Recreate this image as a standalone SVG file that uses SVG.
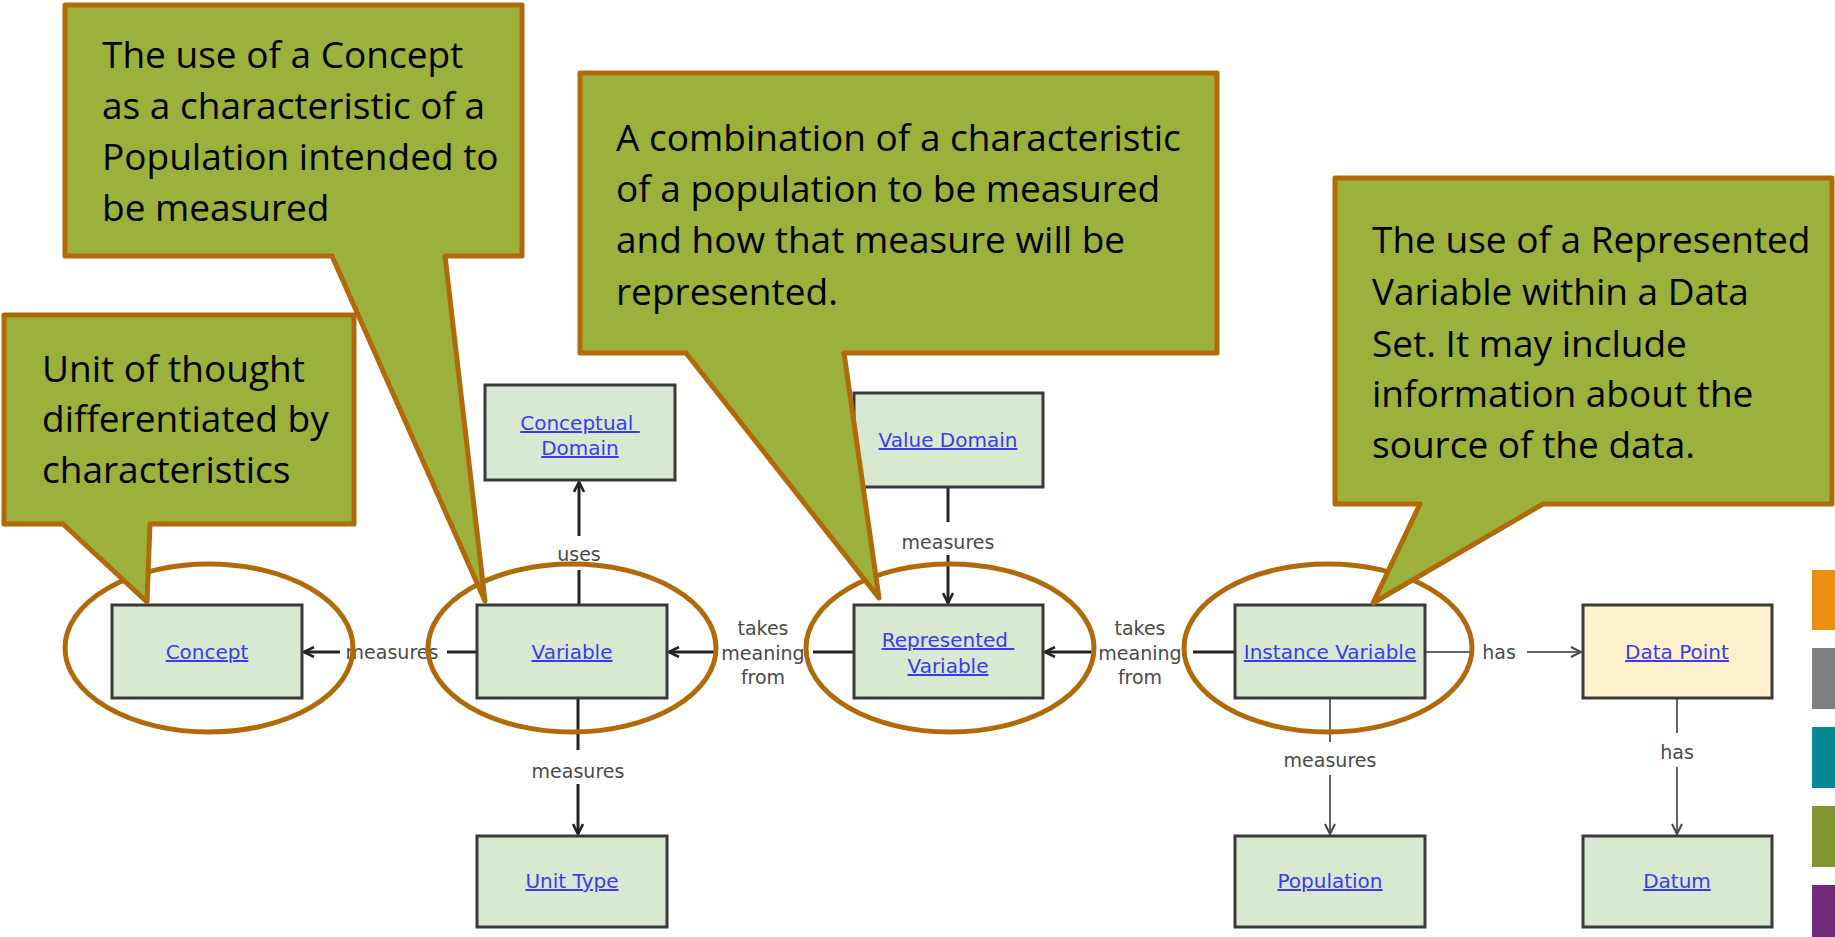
<svg xmlns="http://www.w3.org/2000/svg" width="1835" height="937" viewBox="0 0 1835 937">
<defs>
<style>
.node rect{fill:#d8e8d1;stroke:#3a3a3a;stroke-width:3}
.node.dp rect{fill:#fff1cc}
.node text{font-family:"DejaVu Sans",sans-serif;font-size:20px;fill:#3b3bee;text-decoration:underline;text-anchor:middle}
.lbl{font-family:"DejaVu Sans",sans-serif;font-size:19px;fill:#4a4a4a;text-anchor:middle}
.edge{stroke:#222;stroke-width:3;fill:none}
.edge2{stroke:#666;stroke-width:2;fill:none}
.ring{fill:none;stroke:#b06a0a;stroke-width:5}
.callout path{fill:#9bb13c;stroke:#b06a0a;stroke-width:5;stroke-linejoin:round}
.callout text{font-family:"Open Sans",sans-serif;font-size:37px;fill:#000}
</style>
<marker id="ah" viewBox="0 0 12 12" refX="11" refY="6" markerWidth="12" markerHeight="12" markerUnits="userSpaceOnUse" orient="auto">
<path d="M1,1 L11,6 L1,11" fill="none" stroke="#222" stroke-width="2.6"/>
</marker>
<marker id="ah2" viewBox="0 0 12 12" refX="11" refY="6" markerWidth="12" markerHeight="12" markerUnits="userSpaceOnUse" orient="auto">
<path d="M1,1 L11,6 L1,11" fill="none" stroke="#444" stroke-width="2"/>
</marker>
</defs>
<rect width="1835" height="937" fill="#fff"/>

<g id="connectors">
<path class="edge" d="M340,652 H304" marker-end="url(#ah)"/>
<path class="edge" d="M477,652 H447"/>
<text class="lbl" x="392" y="659">measures</text>
<path class="edge" d="M579,605 V570"/>
<path class="edge" d="M579,536 V482" marker-end="url(#ah)"/>
<text class="lbl" x="579" y="561">uses</text>
<path class="edge" d="M578,698 V750"/>
<path class="edge" d="M578,784 V834" marker-end="url(#ah)"/>
<text class="lbl" x="578" y="778">measures</text>
<path class="edge" d="M717,652 H669" marker-end="url(#ah)"/>
<path class="edge" d="M853,652 H813"/>
<text class="lbl" x="763" y="635">takes</text>
<text class="lbl" x="763" y="660">meaning</text>
<text class="lbl" x="763" y="684">from</text>
<path class="edge" d="M948,487 V522"/>
<path class="edge" d="M948,555 V603" marker-end="url(#ah)"/>
<text class="lbl" x="948" y="549">measures</text>
<path class="edge" d="M1092,652 H1045" marker-end="url(#ah)"/>
<path class="edge" d="M1235,652 H1193"/>
<text class="lbl" x="1140" y="635">takes</text>
<text class="lbl" x="1140" y="660">meaning</text>
<text class="lbl" x="1140" y="684">from</text>
<path class="edge2" d="M1425,652 H1474"/>
<path class="edge2" d="M1527,652 H1581" marker-end="url(#ah2)"/>
<text class="lbl" x="1499" y="659">has</text>
<path class="edge2" d="M1330,698 V742"/>
<path class="edge2" d="M1330,775 V834" marker-end="url(#ah2)"/>
<text class="lbl" x="1330" y="767">measures</text>
<path class="edge2" d="M1677,698 V733"/>
<path class="edge2" d="M1677,767 V834" marker-end="url(#ah2)"/>
<text class="lbl" x="1677" y="759">has</text>
</g>

<g id="concept" class="node"><rect x="112" y="605" width="190" height="93"/><text x="207" y="659">Concept</text></g>
<g id="variable" class="node"><rect x="477" y="605" width="190" height="93"/><text x="572" y="659">Variable</text></g>
<g id="conceptual-domain" class="node"><rect x="485" y="385" width="190" height="95"/><text x="580" y="430" xml:space="preserve">Conceptual </text><text x="580" y="455">Domain</text></g>
<g id="unit-type" class="node"><rect x="477" y="836" width="190" height="91"/><text x="572" y="888">Unit Type</text></g>
<g id="value-domain" class="node"><rect x="854" y="393" width="189" height="94"/><text x="948" y="447">Value Domain</text></g>
<g id="represented-variable" class="node"><rect x="854" y="605" width="189" height="93"/><text x="948" y="647" xml:space="preserve">Represented </text><text x="948" y="673">Variable</text></g>
<g id="instance-variable" class="node"><rect x="1235" y="605" width="190" height="93"/><text x="1330" y="659">Instance Variable</text></g>
<g id="data-point" class="node dp"><rect x="1583" y="605" width="189" height="93"/><text x="1677" y="659">Data Point</text></g>
<g id="population" class="node"><rect x="1235" y="836" width="190" height="91"/><text x="1330" y="888">Population</text></g>
<g id="datum" class="node"><rect x="1583" y="836" width="189" height="91"/><text x="1677" y="888">Datum</text></g>

<g id="rings">
<ellipse class="ring" cx="209" cy="648" rx="144" ry="84"/>
<ellipse class="ring" cx="572" cy="648" rx="144" ry="84"/>
<ellipse class="ring" cx="950" cy="648" rx="144" ry="84"/>
<ellipse class="ring" cx="1328" cy="648" rx="144" ry="84"/>
</g>

<g id="callout-variable" class="callout">
<path d="M65,5 H522 V256 H445 L485,601 L332,256 H65 Z"/>
<text x="102" y="68">The use of a Concept</text>
<text x="102" y="119">as a characteristic of a</text>
<text x="102" y="170">Population intended to</text>
<text x="102" y="221">be measured</text>
</g>
<g id="callout-concept" class="callout">
<path d="M4,315 H354 V524 H150 L147,602 L63,524 H4 Z"/>
<text x="42" y="382">Unit of thought</text>
<text x="42" y="432">differentiated by</text>
<text x="42" y="483">characteristics</text>
</g>
<g id="callout-represented" class="callout">
<path d="M580,73 H1217 V353 H844 L879,598 L686,353 H580 Z"/>
<text x="616" y="151">A combination of a characteristic</text>
<text x="616" y="202">of a population to be measured</text>
<text x="616" y="253">and how that measure will be</text>
<text x="616" y="305">represented.</text>
</g>
<g id="callout-instance" class="callout">
<path d="M1335,178 H1832 V504 H1543 L1373,603 L1420,504 H1335 Z"/>
<text x="1372" y="253">The use of a Represented</text>
<text x="1372" y="305">Variable within a Data</text>
<text x="1372" y="357">Set. It may include</text>
<text x="1372" y="407">information about the</text>
<text x="1372" y="458">source of the data.</text>
</g>

<g id="colour-bars">
<rect x="1812" y="570" width="23" height="60" fill="#ea8f12"/>
<rect x="1812" y="648" width="23" height="61" fill="#808080"/>
<rect x="1812" y="727" width="23" height="61" fill="#088892"/>
<rect x="1812" y="806" width="23" height="61" fill="#80962e"/>
<rect x="1812" y="885" width="23" height="52" fill="#712b78"/>
</g>
</svg>
